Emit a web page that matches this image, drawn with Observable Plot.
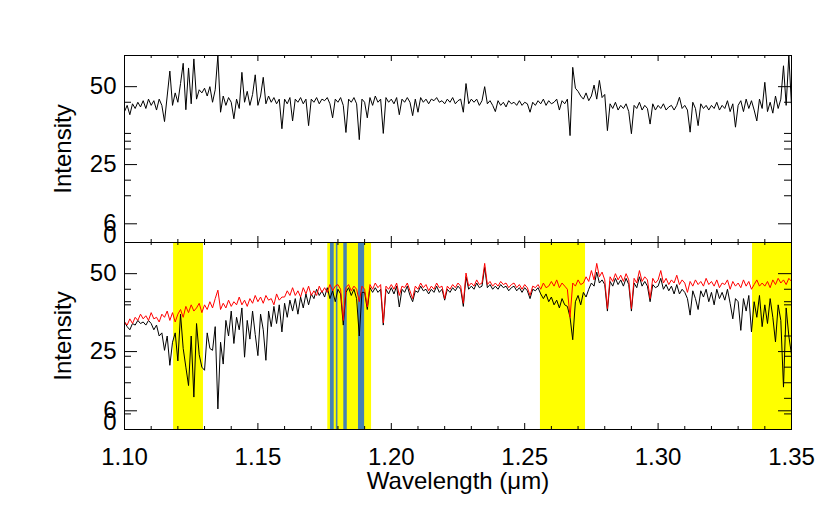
<!DOCTYPE html>
<html><head><meta charset="utf-8">
<script src="https://cdn.jsdelivr.net/npm/d3@7"></script>
<script src="https://cdn.jsdelivr.net/npm/@observablehq/plot@0.6"></script>
<style>
body{margin:0;background:#fff;}
#wrap{position:relative;width:830px;height:506px;}
#wrap svg{position:absolute;left:0;overflow:visible;}
</style></head><body><div id="wrap"></div>
<script>
// wavelength grid (µm): first sample and spacing
const waveStart = 1.100, waveStep = 0.001;

// top panel spectrum (black)
const topBlack = [
42,44,41,44.5,43,45,43.5,45.5,43,46,
44,45.5,42.5,46,44,38.8,47,55,44,48,
45,51,57.5,42.6,56,44.5,58.9,46,49,48,
49.5,47,50,45,49,60,41.8,47,44,46.5,
45,39.7,46,43,54.6,45,48.5,44,47.5,53.8,
44,47,53,44.5,47,45,46.5,44.5,46,36.5,
46,44.5,46.5,39,46,45,46.5,44.5,46,37.5,
46,45,46.5,44.5,46,45.5,46.5,44.5,40,46,
45,46.5,44,35.3,46,45,46.5,44.5,33,46,
45,40,46.5,44,47,45,46,35,46.5,45,
46,44.5,46.5,41,46,45,46.5,45,40.7,46,
41.8,46.5,45,46,44.5,46,45.5,46.5,45,45.5,
44.5,46,45,46.5,44.5,45.5,46,41.8,51,44.5,
46,45,46,44,45.5,50,44.5,45.5,44,42,
45.5,44,45,43.5,45.5,44.5,45,44,45.5,44,
45,44.5,41.8,45,44,45.5,44.5,46,44,45.5,
44.5,45,46,42.5,45.5,44.5,46,34.3,56.2,49.5,
48.5,47,46,48,45.5,47,50.5,46,52,46.5,
47.5,35.9,44.5,43,45,42.5,44,43,44.5,42,
34.9,44,43,45,42.5,44,43,38,44.5,42.5,
44,43,44.5,42.5,43.5,44,42.5,44,46.6,43,
44,42.5,35.4,45,43,37.5,44.5,43,44,42.5,
44,43,45,42.5,44,43,45.5,42,44.5,37,
44,45.5,42,46,43,45.5,42.5,39,46,43,
51.4,42,45,41.5,47,43,46,56.7,44,60,44
];

// bottom panel spectrum (black)
const bottomBlack = [
34.5,33,32,34,33.5,35,34,34.5,33.5,35,
34,32,33.5,30,31,25.4,30,20.6,28,31,
22,37,26,20,14.1,30,10.4,34,24,20,
19,31,26,25.4,33,6.6,28,21,35,30,
38,27.6,36,32,39,23.2,35,29,38,30.5,
23.7,37,32,22.2,38,33,39.5,34,40,31.3,
40.5,36,41.5,38,42,37,42.5,39,43.5,40,
43.5,42,45,43,44.5,42.5,45.5,42,44.5,41,
45,43.5,33.5,44,45.5,43,45,42,30,44,
44,38.5,45.5,44,45.5,44,45,33.5,45,43.5,
45.5,43.5,46,39.3,45,44,46,43,41,44.5,
44,46,44.5,45,43.5,45,44,46,44,45,
41.5,45,44,45.5,44.5,46,45,39.5,49,45,
46,45,47,45.5,46,52,45.5,46.5,45,46,
45,46.5,45.5,46,44.5,45.5,46,44.5,45.5,44,
45.5,44.5,42,45,44.5,45.5,43.5,42,43.5,41,
42.5,40,41.5,39,42,40,39.5,36,28.8,41,
43,40,44,42.5,45,47,46,50.5,47,48,
46.5,38,47.5,46,48.5,46.5,48,46,48.5,46.5,
38,47,45.5,49,46,47.5,46,41,46.5,45.5,
46,48.5,45,46.5,44.5,46,43.5,46.5,43.5,45,
44,42,36.7,44.5,42,38.5,44.5,42.5,45,41,
44,40,45,42,44,41.5,45,40.5,35.5,42,
41,31.8,42,38,43,31.3,41,36,43,33,
40,34,42,36,28.1,40,35,13.6,39,30,24
];

// bottom panel spectrum (red)
const bottomRed = [
34.5,33.5,35.5,34,36,35,37,35.5,36.5,35,
37.5,35.5,36,34.5,37,36,38,35,37.5,34.5,
37,38.5,36,39.5,37.5,40,38,39,40.5,37.5,
40,38.5,41,39,42,44.7,38.5,40.5,39,41.5,
39.5,41,40,42.5,40,41.5,39.5,42,40.5,43,
41,42.5,40.5,43,41.5,42,40,43.5,41.5,42.5,
42.5,44.5,43,45.5,43,44.5,42.5,45.5,43.5,46,
43,44.5,43,46,44,45.5,44,46.5,44.5,46,
46.5,45,35,45.5,46.5,44.5,46,45,41,46,
45,39.3,46.5,45,47,45.5,46.5,34.2,46,45,
46.5,45,47,43,46,45.5,47,44.5,42,46,
45,47,45.5,46.5,44.5,46,45,47,45.5,46,
42,46,45,46.5,45.5,47,46,40.5,50.2,46,
47,46,48,46.5,47,53.3,46.5,47.5,46,47,
46,47.5,46.5,47,45.5,46.5,47,45.5,46.5,45,
46.5,45.5,43,46,45.5,46.5,45,47,45.5,46,
47.5,46,48,45.5,47,46,45,36,47,46,
48,46.5,47,49,47.5,51,48,53.3,49,50.5,
48,38.8,49,47.5,50,48,49.5,47.5,50,48,
38.8,48.5,47,51,47.5,49,48,42,48.5,47,
48,51,47,48.5,46.5,48,47,49.5,46.5,48,
47,44,47.5,46,48,46.5,47.5,46,48.5,46.5,
47.5,46,48,45.5,47,46.5,48,45,47.5,46,
47,45.5,48,46,47.5,45,46.5,48,46,47,
46,47.5,45.5,48,46.5,48.5,47,48,46.5,48.5,47.5
];

// axes
const xDomain = [1.10, 1.35];
const yDomain = [0, 60];
const xTicksMajor = [1.10, 1.15, 1.20, 1.25, 1.30, 1.35];
const xTicksMinor = [1.11,1.12,1.13,1.14,1.16,1.17,1.18,1.19,1.21,1.22,1.23,1.24,1.26,1.27,1.28,1.29,1.31,1.32,1.33,1.34];
const yTicksMajor = [0, 6, 25, 50];
const yTickLabels = [6, 25, 50];
const yZeroLabel = [0];
const yMinorTop = [15, 20, 30, 32.5, 35, 45];
const yMinorBottom = [5, 10, 15, 20, 23.5, 30, 40, 41, 45];

// highlighted wavelength ranges (bottom panel)
const yellowBands = [
  {x1: 1.1184, x2: 1.1296},
  {x1: 1.1762, x2: 1.1926},
  {x1: 1.2559, x2: 1.2728},
  {x1: 1.3354, x2: 1.3500}
];
const blueBands = [
  {x1: 1.1772, x2: 1.1786},
  {x1: 1.1794, x2: 1.1800},
  {x1: 1.1822, x2: 1.1835},
  {x1: 1.1877, x2: 1.1900}
];

const toRows = arr => arr.map((v, i) => ({w: waveStart + i * waveStep, v}));

const PW = 667, PH = 187;
const FONT = "'Liberation Sans', Arial, Helvetica, sans-serif";

function tickMarks(minorY) {
  return [
    Plot.tickX(xTicksMajor, {x: d => d, insetTop: PH - 6, stroke: "black"}),
    Plot.tickX(xTicksMajor, {x: d => d, insetBottom: PH - 6, stroke: "black"}),
    Plot.tickX(xTicksMinor, {x: d => d, insetTop: PH - 3, stroke: "black"}),
    Plot.tickX(xTicksMinor, {x: d => d, insetBottom: PH - 3, stroke: "black"}),
    Plot.tickY(yTicksMajor, {y: d => d, insetRight: PW - 13, stroke: "black"}),
    Plot.tickY(yTicksMajor, {y: d => d, insetLeft: PW - 13, stroke: "black"}),
    Plot.tickY(minorY, {y: d => d, insetRight: PW - 7, stroke: "black"}),
    Plot.tickY(minorY, {y: d => d, insetLeft: PW - 7, stroke: "black"}),
    Plot.axisY(yTickLabels, {tickSize: 0, tickPadding: 8, label: null}),
    Plot.axisY(yZeroLabel, {tickSize: 0, tickPadding: 8, dy: -7, label: null}),
    Plot.text(["Intensity"], {frameAnchor: "left", rotate: -90, dx: -61, textAnchor: "middle", lineAnchor: "middle"})
  ];
}

const common = {
  width: 830,
  marginLeft: 124,
  marginRight: 39,
  style: {fontFamily: FONT, fontSize: "24px", background: "transparent", overflow: "visible", color: "black"}
};

const topPlot = Plot.plot({
  ...common,
  height: 242,
  marginTop: 55,
  marginBottom: 0,
  x: {domain: xDomain, axis: null},
  y: {domain: yDomain},
  marks: [
    Plot.line(toRows(topBlack), {x: "w", y: "v", stroke: "black", strokeWidth: 1, clip: true}),
    ...tickMarks(yMinorTop),
    Plot.frame({stroke: "black", strokeWidth: 1})
  ]
});

const bottomPlot = Plot.plot({
  ...common,
  height: 264,
  marginTop: 0,
  marginBottom: 77,
  x: {domain: xDomain},
  y: {domain: yDomain},
  marks: [
    Plot.rectX(yellowBands, {x1: "x1", x2: "x2", fill: "#ffff00"}),
    Plot.rectX(blueBands, {x1: "x1", x2: "x2", fill: "#4682b4"}),
    Plot.line(toRows(bottomBlack), {x: "w", y: "v", stroke: "black", strokeWidth: 1, clip: true}),
    Plot.line(toRows(bottomRed), {x: "w", y: "v", stroke: "#ff0000", strokeWidth: 1, clip: true}),
    ...tickMarks(yMinorBottom),
    Plot.axisX(xTicksMajor, {tickSize: 0, tickPadding: 18, tickFormat: d3.format(".2f"), label: null}),
    Plot.text(["Wavelength (μm)"], {frameAnchor: "bottom", dy: 52, textAnchor: "middle", lineAnchor: "middle"}),
    Plot.frame({stroke: "black", strokeWidth: 1})
  ]
});

topPlot.style.top = "0px";
bottomPlot.style.top = "242px";
const wrap = document.getElementById("wrap");
wrap.appendChild(topPlot);
wrap.appendChild(bottomPlot);
</script></body></html>
